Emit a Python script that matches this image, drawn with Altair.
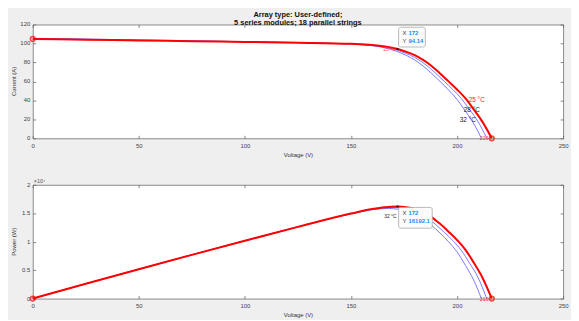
import altair as alt
import pandas as pd

# ---------------- data ----------------
TEMPS = ["25 °C", "28 °C", "32 °C"]

V25 = [0, 25, 50, 75, 100, 125, 150, 160, 166, 172, 176, 180, 184, 188, 192, 196, 200, 204, 208, 212, 216.4]
I25 = [104.8, 104.0, 103.2, 102.4, 101.6, 100.8, 99.6, 98.4, 96.8, 94.14, 91.2, 87.6, 82.6, 76.2, 68.4, 60.0, 51.5, 42.0, 30.0, 17.3, 0]

V28 = [0, 25, 50, 75, 100, 125, 150, 160, 166, 170, 174, 178, 182, 186, 190, 194, 198, 202, 206, 210, 214]
I28 = [105.1, 104.3, 103.5, 102.6, 101.8, 100.9, 99.5, 98.0, 96.1, 94.2, 91.2, 87.6, 82.6, 76.2, 68.4, 60.0, 51.5, 42.0, 30.0, 17.3, 0]

V32 = [0, 25, 50, 75, 100, 125, 150, 158, 164, 168, 172, 176, 180, 184, 188, 192, 196, 200, 204, 208, 211.5]
I32 = [105.4, 104.6, 103.7, 102.8, 101.9, 101.0, 99.3, 98.1, 96.3, 94.3, 91.3, 87.6, 82.6, 76.2, 68.4, 60.0, 51.0, 41.0, 28.5, 15.0, 0]

MPP_V = 172
MPP_I = 94.14
MPP_P = 16192.1

# temperature label anchor points (I-V plot)
LABEL_T = ["25 °C", "28 °C", "32 °C"]
LABEL_V = [209.3, 207.0, 205.1]
LABEL_I = [40.7, 30.3, 19.1]
LABEL_C = ["#ff2020", "#222222", "#222222"]

X_TICKS = [0, 50, 100, 150, 200, 250]
I_TICKS = [0, 20, 40, 60, 80, 100, 120]
P_TICKS = [0, 5000, 10000, 15000, 20000]
P_TICK_LABELS = ["0", "0.5", "1", "1.5", "2"]

TITLE = ["Array type: User-defined;", "5 series modules; 18 parallel strings"]

# ---------------- tables ----------------
rows = []
for t, vs, cs in zip(TEMPS, [V25, V28, V32], [I25, I28, I32]):
    for v, c in zip(vs, cs):
        rows.append({"V": v, "I": c, "P": v * c, "T": t})
df = pd.DataFrame(rows)
df_red = df[df["T"] == TEMPS[0]]
df_blue = df[df["T"] != TEMPS[0]]

ends = pd.DataFrame({"V": [V25[0], V25[-1]], "I": [I25[0], I25[-1]],
                     "P": [V25[0] * I25[0], V25[-1] * I25[-1]]})
voc = pd.DataFrame({"V": [V25[-1]], "I": [0], "P": [0], "txt": [str(int(V25[-1]))]})
mpp = pd.DataFrame({"V": [MPP_V], "I": [MPP_I], "P": [MPP_P],
                    "xs": [f"{MPP_V}"], "ys": [f"{MPP_I}"], "ps": [f"{MPP_P}"]})
lab = pd.DataFrame({"V": LABEL_V, "I": LABEL_I, "T": LABEL_T, "C": LABEL_C})
xt = pd.DataFrame({"v": X_TICKS})
it = pd.DataFrame({"v": I_TICKS, "lab": [str(v) for v in I_TICKS]})
pt = pd.DataFrame({"v": P_TICKS, "lab": P_TICK_LABELS})

W, H = 536, 115
FONT = "Liberation Sans"
RED = "#ff0000"
BLUE = "#6a6aff"
TICKC = "#666666"
TIPBLUE = "#1a8cff"
FS = 6

xs = alt.Scale(domain=[0, 250], nice=False, zero=False)
ys_i = alt.Scale(domain=[0, 120], nice=False)
ys_p = alt.Scale(domain=[0, 20000], nice=False)

x_axis = alt.Axis(values=X_TICKS, title="Voltage (V)", ticks=True, tickSize=3, offset=-3,
                  tickColor=TICKC, tickWidth=0.8, domain=False, grid=False,
                  labelFontSize=FS, titleFontSize=FS, labelPadding=4, titlePadding=3,
                  labelColor="#444", titleColor="#333", labelFlush=False, labelOverlap=False,
                  labelFont=FONT, titleFont=FONT, titleFontWeight="normal")
x_top = alt.Axis(values=X_TICKS, orient="top", title=None, labels=False, ticks=True, tickSize=3,
                 offset=-3, tickColor=TICKC, tickWidth=0.8, domain=False, grid=False)


def y_axis(values):
    return alt.Axis(values=values, title=None, labels=False, ticks=True, tickSize=3, offset=-3,
                    tickColor=TICKC, tickWidth=0.8, domain=False, grid=False)


def y_right(values):
    return alt.Axis(values=values, orient="right", title=None, labels=False, ticks=True,
                    tickSize=3, offset=-3, tickColor=TICKC, tickWidth=0.8, domain=False, grid=False)


def panel(yf, yscale, ytitle, ticks_df, tip_off, tip_txt_y, tip_field, title=None, extra=None):
    yvals = [float(v) for v in ticks_df["v"]]
    yax = y_axis(yvals)
    X = alt.X("V:Q", scale=xs, axis=x_axis)
    Y = alt.Y(f"{yf}:Q", scale=yscale, axis=yax)
    blue = alt.Chart(df_blue).mark_line(color=BLUE, strokeWidth=0.9, interpolate="monotone").encode(
        x=X, y=Y, detail="T:N", order="V:Q")
    red = alt.Chart(df_red).mark_line(color=RED, strokeWidth=2, interpolate="monotone").encode(
        x=X, y=Y, order="V:Q")
    circ = alt.Chart(ends).mark_point(shape="circle", filled=False, color=RED, size=22,
                                      strokeWidth=1.6).encode(x=X, y=Y)
    voct = alt.Chart(voc).mark_text(color="#ff3030", fontSize=5.5, align="right", dx=-3, dy=0,
                                    font=FONT).encode(x=X, y=Y, text="txt:N")
    dot = alt.Chart(mpp).mark_point(shape="circle", filled=True, color="#111", size=6).encode(x=X, y=Y)
    x0, x1, y0, y1 = tip_off
    box = alt.Chart(mpp).mark_rect(fill="#fbfbfb", stroke="#a9a9a9", strokeWidth=0.8,
                                   cornerRadius=2, xOffset=x0, x2Offset=x1,
                                   yOffset=y0, y2Offset=y1).encode(
        x=X, x2="V:Q", y=Y, y2=f"{yf}:Q")
    ty1, ty2 = tip_txt_y
    lx = alt.Chart(mpp).mark_text(text="X", align="left", fontSize=FS, color="#444",
                                  font=FONT, dx=x0 + 4, dy=ty1).encode(x=X, y=Y)
    ly_ = alt.Chart(mpp).mark_text(text="Y", align="left", fontSize=FS, color="#444",
                                   font=FONT, dx=x0 + 4, dy=ty2).encode(x=X, y=Y)
    vx = alt.Chart(mpp).mark_text(align="left", fontSize=FS, color=TIPBLUE, fontWeight="bold",
                                  font=FONT, dx=x0 + 10, dy=ty1).encode(x=X, y=Y, text="xs:N")
    vy = alt.Chart(mpp).mark_text(align="left", fontSize=FS, color=TIPBLUE, fontWeight="bold",
                                  font=FONT, dx=x0 + 10, dy=ty2).encode(x=X, y=Y, text=f"{tip_field}:N")
    # y tick labels and y title drawn through the y scale
    ylabels = alt.Chart(ticks_df).mark_text(fontSize=FS, font=FONT, color="#444", align="right",
                                            baseline="middle").encode(
        y=alt.Y("v:Q", scale=yscale, axis=yax), x=alt.value(-2.5), text="lab:N")
    ytitle_m = alt.Chart(pd.DataFrame({"t": [ytitle]})).mark_text(
        fontSize=FS, font=FONT, color="#333", angle=270, baseline="middle", align="center").encode(
        x=alt.value(-18.5), y=alt.value(H / 2), text="t:N")
    inner = alt.layer(*([blue, red] + (extra or []) +
                        [circ, voct, dot, box, lx, ly_, vx, vy, ylabels, ytitle_m]))
    topticks = alt.Chart(xt).mark_rule(opacity=0).encode(
        x=alt.X("v:Q", scale=xs, axis=x_top), y=alt.value(0), y2=alt.value(1))
    rightticks = alt.Chart(ticks_df).mark_rule(opacity=0).encode(
        y=alt.Y("v:Q", scale=yscale, axis=y_right(yvals)),
        x=alt.value(0), x2=alt.value(1))
    ch = alt.layer(inner, topticks, rightticks).resolve_axis(x="independent", y="independent")
    ch = ch.properties(width=W, height=H)
    if title is not None:
        ch = ch.properties(title=title)
    return ch


# temperature labels on the I-V plot
X_ = alt.X("V:Q", scale=xs, axis=x_axis)
YI = alt.Y("I:Q", scale=ys_i, axis=y_axis([float(v) for v in I_TICKS]))
labels_iv = alt.Chart(lab).mark_text(fontSize=6.5, font=FONT).encode(
    x=X_, y=YI, text="T:N", color=alt.Color("C:N", scale=None))
mpp_lab_iv = alt.Chart(mpp).mark_text(text=TEMPS[0], fontSize=5, font=FONT, color="#ff4040",
                                      align="right", dx=-2, dy=0).encode(x=X_, y=YI)

top = panel("I", ys_i, "Current (A)", it, (1, 28, -22, -2), (-16, -8), "ys",
            title=alt.TitleParams(TITLE, fontSize=7.5, fontWeight="bold", font=FONT, color="#111",
                                  lineHeight=8.5, offset=-5, anchor="middle", frame="group"),
            extra=[labels_iv, mpp_lab_iv])

# power plot extras
YP = alt.Y("P:Q", scale=ys_p, axis=y_axis([float(v) for v in P_TICKS]))
exp_lab = alt.Chart(pd.DataFrame({"V": [0], "P": [20000]})).mark_text(
    text="×10⁴", fontSize=5.5, font=FONT, color="#555", align="left", dx=1, dy=-4).encode(
    x=X_, y=YP)
lab32 = alt.Chart(mpp).mark_text(text=TEMPS[2], fontSize=5, font=FONT, color="#222",
                                 align="right", dx=-1, dy=10).encode(x=X_, y=YP)

bottom = panel("P", ys_p, "Power (W)", pt, (1, 35, 1, 22), (7, 15), "ps",
               extra=[exp_lab, lab32])

chart = alt.vconcat(top, bottom, spacing=20).properties(
    padding={"left": 3, "top": 0, "right": 2, "bottom": 0},
    background="#efefef"
).configure_view(stroke="#8a8a8a", strokeWidth=1, fill="white")

chart.save("out.html", embed_options={"renderer": "svg", "actions": False})
